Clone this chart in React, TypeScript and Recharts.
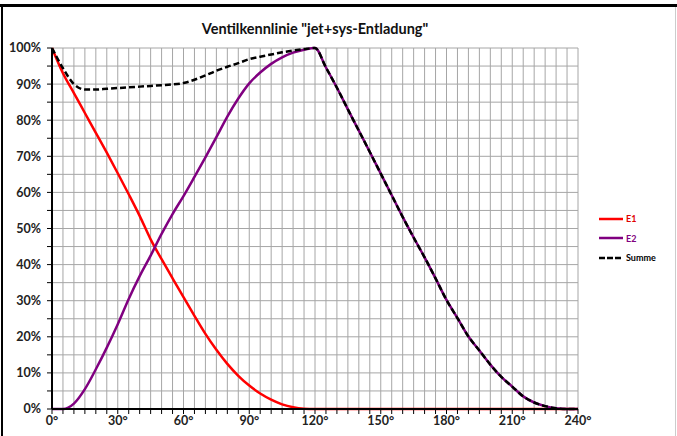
import { LineChart, Line, XAxis, YAxis, CartesianGrid } from "recharts";

// angle in degrees (5° steps)
const angles = [
  0, 5, 10, 15, 20, 25, 30, 35, 40, 45, 50, 55, 60, 65, 70, 75, 80, 85, 90, 95, 100, 105, 110, 115, 120,
  125, 130, 135, 140, 145, 150, 155, 160, 165, 170, 175, 180, 185, 190, 195, 200, 205, 210, 215, 220,
  225, 230, 235, 240,
];

// percent values
const e1 = [
  100, 93, 87.5, 82, 76.5, 71, 65.3, 59.5, 53.5, 47, 41.5, 36.2, 31, 25.8, 20.8, 16.4, 12.5, 9.2, 6.5, 4.3,
  2.6, 1.3, 0.5, 0.1, 0, 0, 0, 0, 0, 0, 0, 0, 0, 0, 0, 0, 0, 0, 0, 0, 0, 0, 0, 0, 0, 0, 0, 0, 0,
];
const e2 = [
  0, 0, 1.5, 5.5, 11, 17, 23.5, 30.5, 36.8, 42.5, 48.5, 54, 59, 64.3, 69.7, 75.3, 81, 86, 90.2, 93.2,
  95.6, 97.4, 98.7, 99.5, 100, 94.6, 89, 83, 77.1, 71.2, 65.2, 59.2, 53.2, 47.5, 42, 36.2, 30.2, 25.2,
  20.1, 16.2, 12.3, 8.9, 6.2, 3.5, 1.8, 0.8, 0.2, 0, 0,
];
const summe = [
  100, 94.4, 90, 88.5, 88.5, 88.7, 88.9, 89.1, 89.3, 89.5, 89.7, 89.9, 90.3, 91.2, 92.4, 93.7, 94.8, 95.8,
  96.9, 97.6, 98.2, 98.8, 99.3, 99.7, 100, 94.6, 89, 83, 77.1, 71.2, 65.2, 59.2, 53.2, 47.5, 42, 36.2, 30.2,
  25.2, 20.1, 16.2, 12.3, 8.9, 6.2, 3.5, 1.8, 0.8, 0.2, 0, 0,
];

const xTicks = [
  0, 5, 10, 15, 20, 25, 30, 35, 40, 45, 50, 55, 60, 65, 70, 75, 80, 85, 90, 95, 100, 105, 110, 115, 120,
  125, 130, 135, 140, 145, 150, 155, 160, 165, 170, 175, 180, 185, 190, 195, 200, 205, 210, 215, 220,
  225, 230, 235, 240,
];
const yTicks = [0, 5, 10, 15, 20, 25, 30, 35, 40, 45, 50, 55, 60, 65, 70, 75, 80, 85, 90, 95, 100];

const data = angles.map((a, i) => ({ angle: a, E1: e1[i], E2: e2[i], Summe: summe[i] }));

const font = "Lato, 'Open Sans', sans-serif";

const legendItems = [
  { name: "E1", color: "#ff0000", text: "#e00000", dash: "0" },
  { name: "E2", color: "#800080", text: "#800080", dash: "0" },
  { name: "Summe", color: "#000000", text: "#000000", dash: "6 2" },
];

const App = () => {
  return (
    <div style={{ position: "absolute", left: 0, top: 0, width: 677, height: 436, background: "#fff", overflow: "hidden" }}>
      <div style={{ position: "absolute", left: 0, top: 4, width: 677, height: 3, background: "#000" }} />
      <div style={{ position: "absolute", left: 1, top: 4, width: 2, height: 432, background: "#000" }} />
      <div style={{ position: "absolute", left: 675, top: 7, width: 1, height: 429, background: "#ccc" }} />
      <div
        style={{
          position: "absolute",
          left: 52,
          width: 526,
          top: 20,
          textAlign: "center",
          fontFamily: font,
          fontWeight: 700,
          fontSize: 14.5,
          color: "#111",
        }}
      >
        Ventilkennlinie "jet+sys-Entladung"
      </div>
      <div style={{ position: "absolute", left: 599, top: 209, fontFamily: font, fontSize: 9, fontWeight: 700 }}>
        {legendItems.map((it) => (
          <div key={it.name} style={{ display: "flex", alignItems: "center", height: 19.5 }}>
            <svg width={24} height={6}>
              <line x1={0} y1={3} x2={24} y2={3} stroke={it.color} strokeWidth={2.5} strokeDasharray={it.dash} />
            </svg>
            <span style={{ marginLeft: 3, color: it.text }}>{it.name}</span>
          </div>
        ))}
      </div>
      <div style={{ position: "absolute", left: 0, top: 0 }}>
        <LineChart width={677} height={436} data={data} margin={{ top: 48, right: 99, bottom: 0, left: 0 }}>
          <CartesianGrid stroke="#a6a6a6" strokeWidth={1} />
          <XAxis
            dataKey="angle"
            type="number"
            domain={[0, 240]}
            ticks={xTicks}
            interval={0}
            tickFormatter={(v: number) => (v % 30 === 0 ? `${v}°` : "")}
            tick={{ fontFamily: font, fontSize: 12.5, fontWeight: 700, fill: "#222" }}
            tickSize={5}
            tickMargin={2}
            axisLine={{ stroke: "#000", strokeWidth: 2 }}
            tickLine={{ stroke: "#000", strokeWidth: 1 }}
            height={27}
          />
          <YAxis
            type="number"
            domain={[0, 100]}
            ticks={yTicks}
            interval={0}
            tickFormatter={(v: number) => (v % 10 === 0 ? `${v}%` : "")}
            tick={{ fontFamily: font, fontSize: 12.5, fontWeight: 700, fill: "#222" }}
            tickSize={5}
            tickMargin={6}
            axisLine={{ stroke: "#000", strokeWidth: 2 }}
            tickLine={{ stroke: "#000", strokeWidth: 1 }}
            width={52}
          />
          <Line dataKey="E1" type="monotone" stroke="#ff0000" strokeWidth={2.5} dot={false} isAnimationActive={false} />
          <Line dataKey="E2" type="monotone" stroke="#800080" strokeWidth={2.5} dot={false} isAnimationActive={false} />
          <Line
            dataKey="Summe"
            type="monotone"
            stroke="#000"
            strokeWidth={2.5}
            strokeDasharray="6 3"
            dot={false}
            isAnimationActive={false}
          />
        </LineChart>
      </div>
    </div>
  );
};

export default App;
